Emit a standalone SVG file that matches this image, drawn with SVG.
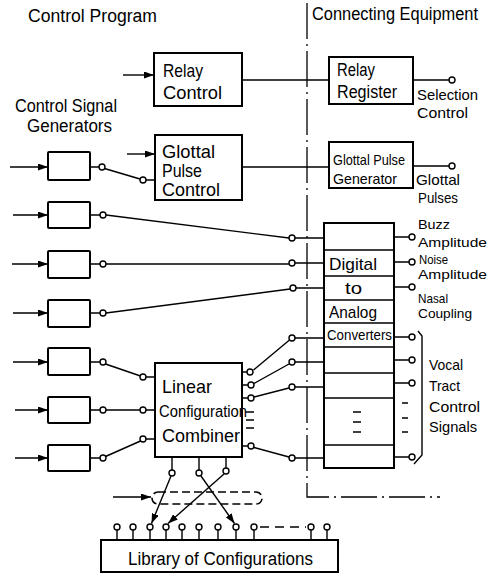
<svg xmlns="http://www.w3.org/2000/svg" width="494" height="574" viewBox="0 0 494 574">
<defs>
<marker id="ah" markerUnits="userSpaceOnUse" viewBox="0 0 10 7" refX="10" refY="3.5" markerWidth="10" markerHeight="7" orient="auto">
<path d="M0,0 L10,3.5 L0,7 z" fill="#000"/>
</marker>
<style>
text{font-family:"Liberation Sans",Arial,sans-serif;fill:#000}
.box{fill:#fff;stroke:#000;stroke-width:2}
.ln{fill:none;stroke:#000;stroke-width:1.4}
.ar{fill:none;stroke:#000;stroke-width:1.4;marker-end:url(#ah)}
.c{fill:#fff;stroke:#000;stroke-width:1.4}
.dd{fill:none;stroke:#000;stroke-width:1.3;stroke-dasharray:36 5 2 5}
.dsh{fill:none;stroke:#000;stroke-width:1.6;stroke-dasharray:8 4}
.t18{font-size:18px}
.t15{font-size:15px}
.t13{font-size:13px}
</style>
</defs>
<rect width="494" height="574" fill="#fff"/>

<!-- section labels and dash-dot divider -->
<g id="sections">
<text class="t18" x="28" y="22" textLength="129" lengthAdjust="spacingAndGlyphs">Control Program</text>
<text class="t18" x="312" y="20" textLength="166" lengthAdjust="spacingAndGlyphs">Connecting Equipment</text>
<path class="dd" d="M307,3 V497 H440"/>
<text class="t18" x="15" y="112" textLength="102" lengthAdjust="spacingAndGlyphs">Control Signal</text>
<text class="t18" x="27" y="132" textLength="85" lengthAdjust="spacingAndGlyphs">Generators</text>
</g>

<g id="relay-control">
<rect class="box" x="154" y="53" width="88" height="53"/>
<text font-size="19" x="163" y="77" textLength="40" lengthAdjust="spacingAndGlyphs">Relay</text>
<text font-size="19" x="163" y="99" textLength="59" lengthAdjust="spacingAndGlyphs">Control</text>
</g>

<g id="glottal-pulse-control">
<rect class="box" x="155" y="135" width="87" height="65"/>
<text font-size="19" x="162" y="158" textLength="53" lengthAdjust="spacingAndGlyphs">Glottal</text>
<text font-size="19" x="162" y="177" textLength="40" lengthAdjust="spacingAndGlyphs">Pulse</text>
<text font-size="19" x="162" y="196" textLength="58" lengthAdjust="spacingAndGlyphs">Control</text>
</g>

<g id="relay-register">
<rect class="box" x="329" y="57" width="84" height="47"/>
<text font-size="18" x="337" y="76" textLength="38" lengthAdjust="spacingAndGlyphs">Relay</text>
<text font-size="18" x="337" y="98" textLength="60" lengthAdjust="spacingAndGlyphs">Register</text>
<circle class="c" cx="452" cy="80" r="3"/>
<text class="t15" x="417" y="100" textLength="61" lengthAdjust="spacingAndGlyphs">Selection</text>
<text class="t15" x="417" y="118" textLength="51" lengthAdjust="spacingAndGlyphs">Control</text>
</g>

<g id="glottal-pulse-generator">
<rect class="box" x="329" y="142" width="84" height="46"/>
<text class="t15" x="333" y="165" textLength="72" lengthAdjust="spacingAndGlyphs">Glottal Pulse</text>
<text class="t15" x="333" y="184" textLength="64" lengthAdjust="spacingAndGlyphs">Generator</text>
<circle class="c" cx="452" cy="166" r="3"/>
<text class="t15" x="416" y="185" textLength="44" lengthAdjust="spacingAndGlyphs">Glottal</text>
<text class="t15" x="418" y="203" textLength="40" lengthAdjust="spacingAndGlyphs">Pulses</text>
</g>

<g id="signal-generators">
<rect class="box" x="48" y="152" width="42" height="28" rx="1"/>
<rect class="box" x="48" y="202" width="42" height="26" rx="1"/>
<rect class="box" x="48" y="251" width="42" height="27" rx="1"/>
<rect class="box" x="48" y="300" width="42" height="27" rx="1"/>
<rect class="box" x="48" y="348" width="42" height="27" rx="1"/>
<rect class="box" x="48" y="397" width="42" height="26" rx="1"/>
<rect class="box" x="48" y="445" width="42" height="26" rx="1"/>
</g>

<g id="d-a-converters">
<rect class="box" x="324" y="223" width="70" height="245"/>
<path class="ln" stroke-width="2" d="M324,250H394M324,276H394M324,300H394M324,323H394M324,347H394M324,373H394M324,398H394M324,445H394"/>
<text font-size="17" x="329" y="270" textLength="48" lengthAdjust="spacingAndGlyphs">Digital</text>
<text font-size="16" x="345" y="294" textLength="17" lengthAdjust="spacingAndGlyphs">to</text>
<text font-size="17" x="329" y="318" textLength="48" lengthAdjust="spacingAndGlyphs">Analog</text>
<text font-size="14" x="327" y="340" textLength="65" lengthAdjust="spacingAndGlyphs">Converters</text>
<path class="ln" d="M353,412H361M353,422H361M353,432H361"/>
</g>

<g id="dac-outputs">
<path class="ln" d="M394,237H409M394,262H409M394,287H409M394,337H409M394,360H409M394,383H409M394,457H409"/>
<circle class="c" cx="412" cy="237" r="3"/>
<circle class="c" cx="412" cy="262" r="3"/>
<circle class="c" cx="412" cy="287" r="3"/>
<circle class="c" cx="412" cy="337" r="3"/>
<circle class="c" cx="412" cy="360" r="3"/>
<circle class="c" cx="412" cy="383" r="3"/>
<circle class="c" cx="412" cy="457" r="3"/>
<path class="ln" d="M402,403H408M402,418H408M402,432H408"/>
<path class="ln" d="M418,331 L422,336 V455 L414,464"/>
<text class="t13" x="418" y="229" textLength="32" lengthAdjust="spacingAndGlyphs">Buzz</text>
<text class="t13" x="418" y="247" textLength="69" lengthAdjust="spacingAndGlyphs">Amplitude</text>
<text class="t13" x="419" y="264" textLength="29" lengthAdjust="spacingAndGlyphs">Noise</text>
<text class="t13" x="418" y="279" textLength="69" lengthAdjust="spacingAndGlyphs">Amplitude</text>
<text class="t13" x="418" y="303" textLength="30" lengthAdjust="spacingAndGlyphs">Nasal</text>
<text class="t13" x="418" y="318" textLength="54" lengthAdjust="spacingAndGlyphs">Coupling</text>
<text class="t15" x="429" y="370" textLength="34" lengthAdjust="spacingAndGlyphs">Vocal</text>
<text class="t15" x="429" y="391" textLength="31" lengthAdjust="spacingAndGlyphs">Tract</text>
<text class="t15" x="429" y="412" textLength="51" lengthAdjust="spacingAndGlyphs">Control</text>
<text class="t15" x="429" y="432" textLength="48" lengthAdjust="spacingAndGlyphs">Signals</text>
</g>

<g id="linear-configuration-combiner">
<rect class="box" x="155" y="363" width="87" height="94"/>
<text font-size="19" x="162" y="393" textLength="50" lengthAdjust="spacingAndGlyphs">Linear</text>
<text font-size="16" x="159" y="417" textLength="88" lengthAdjust="spacingAndGlyphs">Configuration</text>
<text font-size="18" x="162" y="442" textLength="78" lengthAdjust="spacingAndGlyphs">Combiner</text>
<path class="ln" d="M246,412H254M246,420H254M246,428H254"/>
</g>

<g id="library-of-configurations">
<rect class="box" x="101" y="540" width="237" height="32"/>
<text font-size="18" x="128" y="565" textLength="185" lengthAdjust="spacingAndGlyphs">Library of Configurations</text>
<path class="ln" d="M117,530V540M133,530V540M150,530V540M166,530V540M182,530V540M199,530V540M218,530V540M236,530V540M254,530V540M311,530V540M327,530V540"/>
<circle class="c" cx="117" cy="527" r="3"/>
<circle class="c" cx="133" cy="527" r="3"/>
<circle class="c" cx="150" cy="527" r="3"/>
<circle class="c" cx="166" cy="527" r="3"/>
<circle class="c" cx="182" cy="527" r="3"/>
<circle class="c" cx="199" cy="527" r="3"/>
<circle class="c" cx="218" cy="527" r="3"/>
<circle class="c" cx="236" cy="527" r="3"/>
<circle class="c" cx="254" cy="527" r="3"/>
<circle class="c" cx="311" cy="527" r="3"/>
<circle class="c" cx="327" cy="527" r="3"/>
<path class="ln" stroke-dasharray="9 6" d="M260,527H306"/>
</g>

<g id="connectors">
<!-- inputs -->
<path class="ar" d="M123,75H154"/>
<path class="ar" d="M127,154H155"/>
<path class="ar" d="M10,167H48"/>
<path class="ar" d="M13,215H48"/>
<path class="ar" d="M12,264H48"/>
<path class="ar" d="M13,313H48"/>
<path class="ar" d="M13,362H48"/>
<path class="ar" d="M15,410H48"/>
<path class="ar" d="M15,458H48"/>
<!-- relay / glottal -->
<path class="ln" d="M242,80H329M413,80H449"/>
<path class="ln" d="M242,167H329M413,166H449"/>
<!-- generator outputs -->
<path class="ln" d="M90,167H99M90,215H100M90,264H100M90,313H100M90,362H100M90,410H100M90,458H100"/>
<path class="ln" d="M104.5,168.5L140,179M146,180H155"/>
<path class="ln" d="M106,215L289,238M295,238H324"/>
<path class="ln" d="M106,264H289M295,263H324"/>
<path class="ln" d="M106,313L290,289M296,288H324"/>
<path class="ln" d="M105.5,364L140.5,376M146,377H155"/>
<path class="ln" d="M106,410H140M146,410H155"/>
<path class="ln" d="M105.5,456.5L140.5,441M146,439H155"/>
<!-- LCC outputs -->
<path class="ln" d="M242,372H247M242,385H248M242,398H248M242,446H248"/>
<path class="ln" d="M253.5,370L289.5,340M295,338H324"/>
<path class="ln" d="M254,383.5L289,364M295,362H324"/>
<path class="ln" d="M254,397L289,388M295,387H324"/>
<path class="ln" d="M254,447.5L289,457M295,458H324"/>
<!-- LCC bottom to library -->
<path class="ln" d="M172,457V470M199,457V470M226,457V468"/>
<path class="ar" d="M171,476L151.5,523.5"/>
<path class="ar" d="M201,476L234.5,523.5"/>
<path class="ar" d="M224,474L168,523.5"/>
<!-- selection loop -->
<path class="ar" d="M113,497H151"/>
<path class="dsh" d="M158,492H256A6,6 0 0 1 256,504H158A6,6 0 0 1 158,492Z"/>
</g>

<g id="circles">
<circle class="c" cx="102" cy="167" r="3"/>
<circle class="c" cx="143" cy="180" r="3"/>
<circle class="c" cx="103" cy="215" r="3"/>
<circle class="c" cx="103" cy="264" r="3"/>
<circle class="c" cx="103" cy="313" r="3"/>
<circle class="c" cx="103" cy="362" r="3"/>
<circle class="c" cx="103" cy="410" r="3"/>
<circle class="c" cx="103" cy="458" r="3"/>
<circle class="c" cx="143" cy="377" r="3"/>
<circle class="c" cx="143" cy="410" r="3"/>
<circle class="c" cx="143" cy="439" r="3"/>
<circle class="c" cx="292" cy="238" r="3"/>
<circle class="c" cx="292" cy="263" r="3"/>
<circle class="c" cx="293" cy="288" r="3"/>
<circle class="c" cx="292" cy="338" r="3"/>
<circle class="c" cx="292" cy="362" r="3"/>
<circle class="c" cx="292" cy="387" r="3"/>
<circle class="c" cx="292" cy="458" r="3"/>
<circle class="c" cx="250" cy="372" r="3"/>
<circle class="c" cx="251" cy="385" r="3"/>
<circle class="c" cx="251" cy="398" r="3"/>
<circle class="c" cx="251" cy="446" r="3"/>
<circle class="c" cx="172" cy="473" r="3"/>
<circle class="c" cx="199" cy="473" r="3"/>
<circle class="c" cx="226" cy="471" r="3"/>
</g>
</svg>
